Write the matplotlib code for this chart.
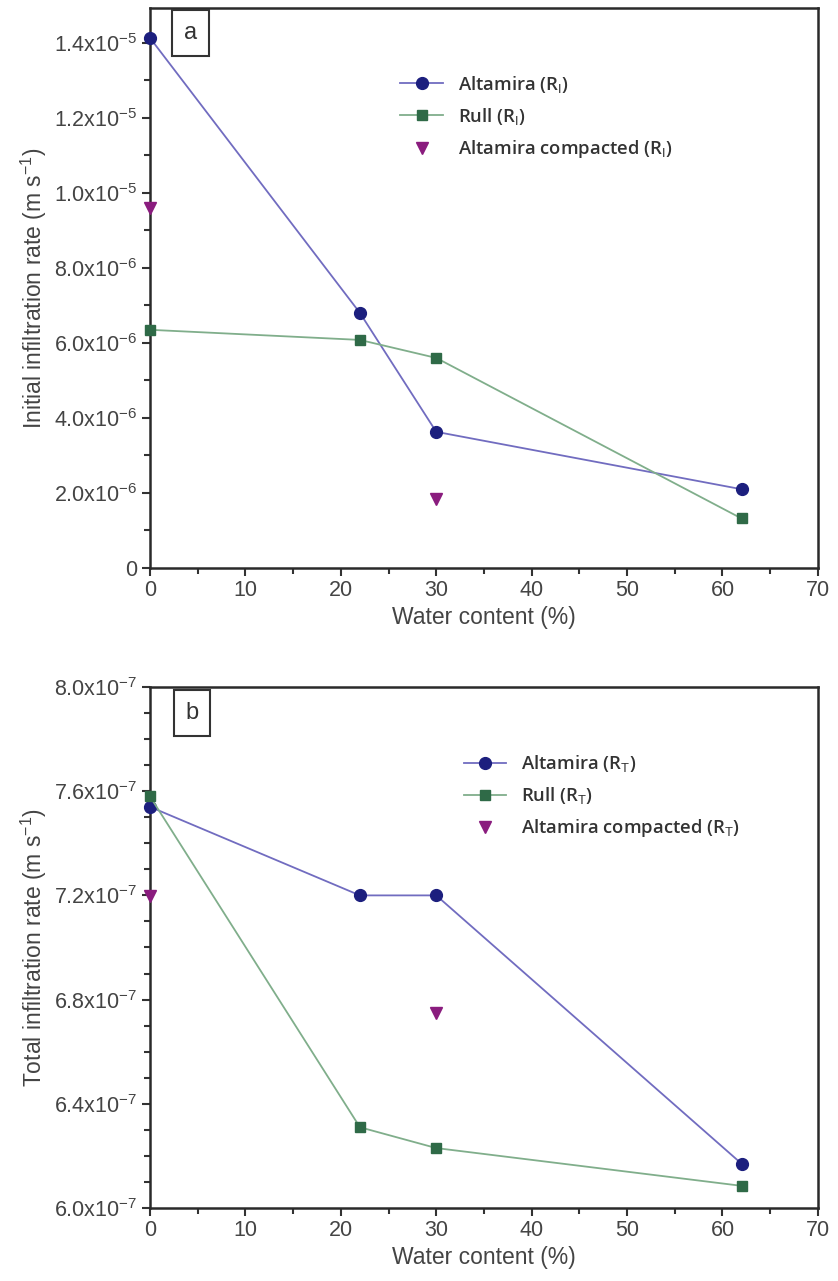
import numpy as np
import matplotlib
matplotlib.use('Agg')
import matplotlib.pyplot as plt
from matplotlib.ticker import MultipleLocator, FixedLocator

# water content (%)
x_alt = [0, 22, 30, 62]
x_rull = [0, 22, 30, 62]
x_comp = [0, 30]

# initial infiltration rate (m s-1)
ri_alt = [1.413e-5, 6.8e-6, 3.63e-6, 2.1e-6]
ri_rull = [6.35e-6, 6.08e-6, 5.6e-6, 1.32e-6]
ri_comp = [9.6e-6, 1.84e-6]

# total infiltration rate (m s-1)
rt_alt = [7.54e-7, 7.2e-7, 7.2e-7, 6.17e-7]
rt_rull = [7.58e-7, 6.31e-7, 6.23e-7, 6.085e-7]
rt_comp = [7.196e-7, 6.75e-7]

yt_a = [0, 2e-6, 4e-6, 6e-6, 8e-6, 1e-5, 1.2e-5, 1.4e-5]
yl_a = ['0', r'2.0x10$^{-6}$', r'4.0x10$^{-6}$', r'6.0x10$^{-6}$', r'8.0x10$^{-6}$',
        r'1.0x10$^{-5}$', r'1.2x10$^{-5}$', r'1.4x10$^{-5}$']
yt_b = [6.0e-7, 6.4e-7, 6.8e-7, 7.2e-7, 7.6e-7, 8.0e-7]
yl_b = [r'6.0x10$^{-7}$', r'6.4x10$^{-7}$', r'6.8x10$^{-7}$', r'7.2x10$^{-7}$',
        r'7.6x10$^{-7}$', r'8.0x10$^{-7}$']

c_alt, c_alt_line = '#1c1f7e', '#716cc0'
c_rull, c_rull_line = '#2f6a47', '#80ae8b'
c_comp = '#8a1c7e'

plt.rcParams['font.family'] = ['Liberation Sans', 'DejaVu Sans']
plt.rcParams['mathtext.fontset'] = 'custom'
plt.rcParams['mathtext.rm'] = 'Liberation Sans'
plt.rcParams['mathtext.it'] = 'Liberation Sans'

fig = plt.figure(figsize=(8.38, 12.81), dpi=100)
ax_a = fig.add_axes([0.179, 0.5566, 0.797, 0.4372])
ax_b = fig.add_axes([0.179, 0.0570, 0.797, 0.4067])


def style(ax, yt, yl, ymin, ymax, yminor, ylab, tag, tagpos):
    ax.set_xlim(0, 70)
    ax.set_ylim(ymin, ymax)
    ax.xaxis.set_major_locator(MultipleLocator(10))
    ax.xaxis.set_minor_locator(MultipleLocator(5))
    ax.yaxis.set_major_locator(FixedLocator(yt))
    ax.set_yticklabels(yl)
    ax.yaxis.set_minor_locator(MultipleLocator(yminor))
    for s in ax.spines.values():
        s.set_linewidth(1.8)
        s.set_color('#2a2a2a')
    ax.tick_params(which='both', direction='out', color='#333333', top=False, right=False)
    ax.tick_params(which='major', length=6, width=1.5, labelsize=15.5, labelcolor='#444444', pad=3)
    ax.tick_params(which='minor', length=4, width=1.5)
    ax.set_xlabel('Water content (%)', fontsize=16.5, color='#444444', labelpad=3)
    ax.set_ylabel(ylab, fontsize=16.5, color='#444444', labelpad=4)
    ax.text(tagpos[0], tagpos[1], tag, transform=ax.transAxes, fontsize=17, color='#333333',
            ha='center', va='center',
            bbox=dict(boxstyle='square,pad=0.5', fc='white', ec='#333333', lw=1.5))


# panel a
ax_a.plot(x_alt, ri_alt, '-o', color=c_alt_line, mfc=c_alt, mec=c_alt, ms=8.5, lw=1.3,
          clip_on=False, zorder=3, label=r'Altamira (R$_{\rm I}$)')
ax_a.plot(x_rull, ri_rull, '-s', color=c_rull_line, mfc=c_rull, mec=c_rull, ms=7.5, lw=1.3,
          clip_on=False, zorder=3, label=r'Rull (R$_{\rm I}$)')
ax_a.plot(x_comp, ri_comp, 'v', color=c_comp, ms=9, clip_on=False, zorder=3,
          label=r'Altamira compacted (R$_{\rm I}$)')
style(ax_a, yt_a, yl_a, 0, 1.493e-5, 1e-6, r'Initial infiltration rate (m s$^{-1}$)', 'a',
      (0.061, 0.955))
leg_a = ax_a.legend(loc='upper left', bbox_to_anchor=(0.35, 0.912), frameon=False,
                    prop={'family': 'Open Sans', 'weight': 'semibold', 'size': 13.3},
                    handlelength=2.3, labelspacing=0.6, handletextpad=0.8)

# panel b
ax_b.plot(x_alt, rt_alt, '-o', color=c_alt_line, mfc=c_alt, mec=c_alt, ms=8.5, lw=1.3,
          clip_on=False, zorder=3, label=r'Altamira (R$_{\rm T}$)')
ax_b.plot(x_rull, rt_rull, '-s', color=c_rull_line, mfc=c_rull, mec=c_rull, ms=7.5, lw=1.3,
          clip_on=False, zorder=3, label=r'Rull (R$_{\rm T}$)')
ax_b.plot(x_comp, rt_comp, 'v', color=c_comp, ms=9, clip_on=False, zorder=3,
          label=r'Altamira compacted (R$_{\rm T}$)')
style(ax_b, yt_b, yl_b, 6.0e-7, 8.0e-7, 0.1e-7, r'Total infiltration rate (m s$^{-1}$)', 'b',
      (0.063, 0.950))
leg_b = ax_b.legend(loc='upper left', bbox_to_anchor=(0.445, 0.905), frameon=False,
                    prop={'family': 'Open Sans', 'weight': 'semibold', 'size': 13.3},
                    handlelength=2.3, labelspacing=0.6, handletextpad=0.8)
for leg in (leg_a, leg_b):
    for t in leg.get_texts():
        t.set_color('#333333')

fig.savefig('out.png', dpi=100)
